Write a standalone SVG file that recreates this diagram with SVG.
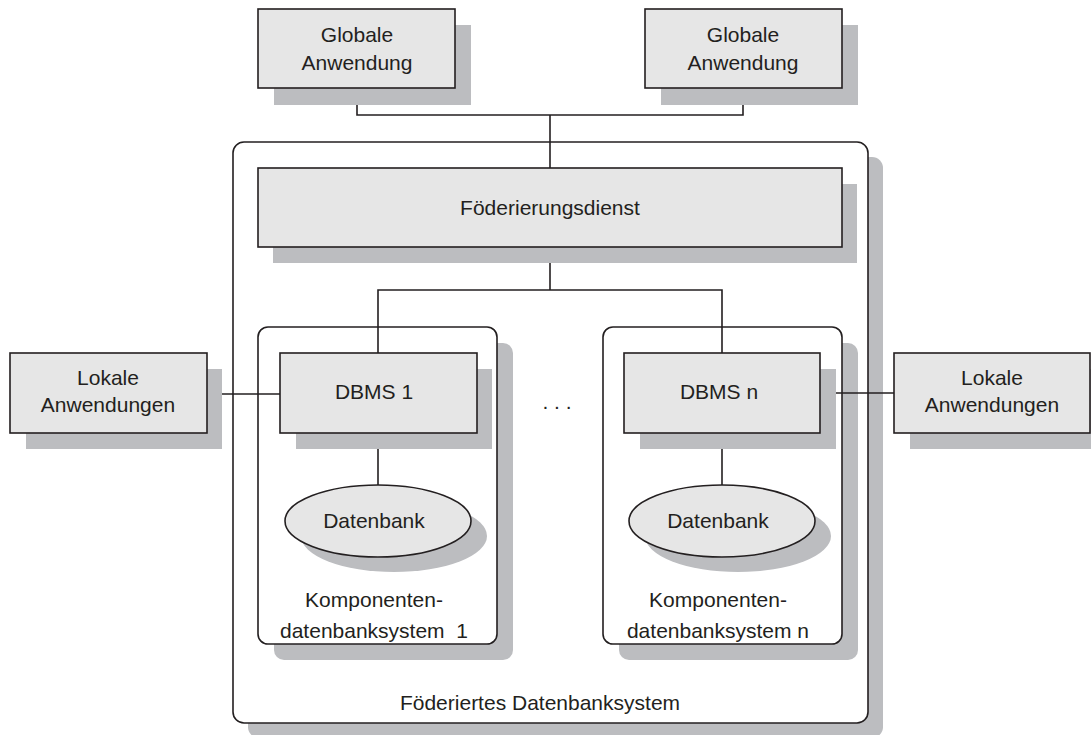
<svg xmlns="http://www.w3.org/2000/svg" width="1091" height="735" viewBox="0 0 1091 735">
<style>
.sh{fill:#bcbdc0;stroke:none}
.bx{fill:#e6e6e6;stroke:#231f20;stroke-width:1.6}
.ct{fill:#ffffff;stroke:#231f20;stroke-width:1.6}
.ln{fill:none;stroke:#231f20;stroke-width:1.6}
text{font-family:"Liberation Sans",Arial,sans-serif;font-size:21px;fill:#231f20;text-anchor:middle}
</style>
<rect width="1091" height="735" fill="#ffffff"/>
<g id="outer">
<rect class="sh" x="248" y="157" width="635" height="581" rx="11"/>
<rect class="ct" x="233" y="142" width="635" height="581" rx="11"/>
<text x="540" y="710">Föderiertes Datenbanksystem</text>
</g>
<g id="comp1">
<rect class="sh" x="274" y="343" width="239" height="317" rx="10"/>
<rect class="ct" x="258" y="327" width="239" height="317" rx="10"/>
<text x="374" y="607">Komponenten-</text>
<text x="374" y="638" xml:space="preserve">datenbanksystem  1</text>
</g>
<g id="compn">
<rect class="sh" x="619" y="343" width="239" height="317" rx="10"/>
<rect class="ct" x="603" y="327" width="239" height="317" rx="10"/>
<text x="718" y="607">Komponenten-</text>
<text x="718" y="638">datenbanksystem n</text>
</g>
<g id="connectors">
<polyline class="ln" points="357,88 357,115 743,115 743,88"/>
<line class="ln" x1="550" y1="115" x2="550" y2="168"/>
<line class="ln" x1="550" y1="247" x2="550" y2="290"/>
<polyline class="ln" points="378,353 378,290 722,290 722,353"/>
<line class="ln" x1="207" y1="394" x2="280" y2="394"/>
<line class="ln" x1="820" y1="393" x2="894" y2="393"/>
<line class="ln" x1="378" y1="433" x2="378" y2="485"/>
<line class="ln" x1="722" y1="433" x2="722" y2="485"/>
</g>
<g id="global1">
<rect class="sh" x="274" y="25" width="197" height="80"/>
<rect class="bx" x="258" y="9" width="197" height="79"/>
<text x="357" y="42">Globale</text>
<text x="357" y="70">Anwendung</text>
</g>
<g id="global2">
<rect class="sh" x="661" y="25" width="197" height="80"/>
<rect class="bx" x="645" y="9" width="197" height="79"/>
<text x="743" y="42">Globale</text>
<text x="743" y="70">Anwendung</text>
</g>
<g id="foederierungsdienst">
<rect class="sh" x="273" y="184" width="584" height="79"/>
<rect class="bx" x="258" y="168" width="584" height="79"/>
<text x="550" y="215">Föderierungsdienst</text>
</g>
<g id="lokal1">
<rect class="sh" x="26" y="369" width="196" height="80"/>
<rect class="bx" x="10" y="353" width="197" height="80"/>
<text x="108" y="385">Lokale</text>
<text x="108" y="412">Anwendungen</text>
</g>
<g id="lokaln">
<rect class="sh" x="910" y="369" width="196" height="80"/>
<rect class="bx" x="894" y="353" width="196" height="80"/>
<text x="992" y="385">Lokale</text>
<text x="992" y="412">Anwendungen</text>
</g>
<g id="dbms1">
<rect class="sh" x="296" y="369" width="196" height="80"/>
<rect class="bx" x="280" y="353" width="197" height="80"/>
<text x="374" y="399">DBMS 1</text>
</g>
<g id="dbmsn">
<rect class="sh" x="640" y="369" width="196" height="80"/>
<rect class="bx" x="624" y="353" width="196" height="80"/>
<text x="719" y="399">DBMS n</text>
</g>
<g id="db1">
<ellipse class="sh" cx="394" cy="536" rx="93" ry="36"/>
<ellipse class="bx" cx="378" cy="521" rx="93" ry="36"/>
<text x="374" y="528">Datenbank</text>
</g>
<g id="dbn">
<ellipse class="sh" cx="738" cy="536" rx="93" ry="36"/>
<ellipse class="bx" cx="722" cy="521" rx="93" ry="36"/>
<text x="718" y="528">Datenbank</text>
</g>
<g id="dots">
<text x="557" y="409">. . .</text>
</g>
</svg>
